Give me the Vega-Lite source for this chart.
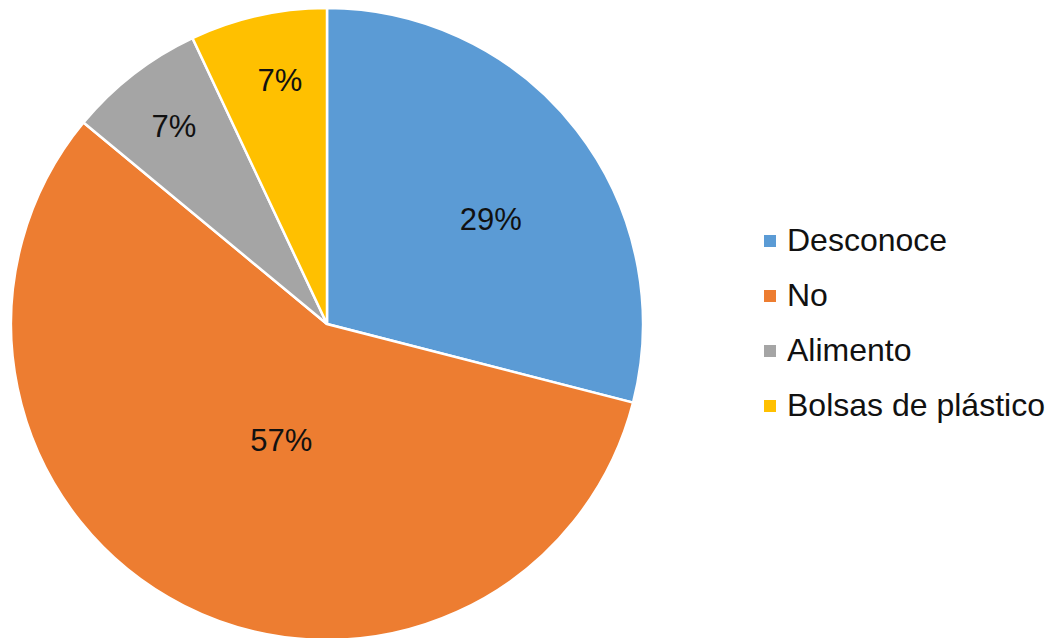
{
  "$schema": "https://vega.github.io/schema/vega-lite/v6.json",
  "width": 654,
  "height": 648,
  "autosize": {"type": "none"},
  "padding": {"left": 0, "top": 0, "right": 401, "bottom": 0},
  "background": "white",
  "config": {"view": {"stroke": null}, "font": "Liberation Sans"},
  "data": {
    "values": [
      {"categoria": "Desconoce", "valor": 29, "orden": 1, "etiqueta": "29%"},
      {"categoria": "No", "valor": 57, "orden": 2, "etiqueta": "57%"},
      {"categoria": "Alimento", "valor": 7, "orden": 3, "etiqueta": "7%"},
      {"categoria": "Bolsas de plástico", "valor": 7, "orden": 4, "etiqueta": "7%"}
    ]
  },
  "encoding": {
    "theta": {"field": "valor", "type": "quantitative", "stack": true},
    "order": {"field": "orden", "type": "quantitative"}
  },
  "layer": [
    {
      "mark": {"type": "arc", "outerRadius": 316, "stroke": "white", "strokeWidth": 2.5},
      "encoding": {
        "color": {
          "field": "categoria",
          "type": "nominal",
          "sort": ["Desconoce", "No", "Alimento", "Bolsas de plástico"],
          "scale": {
            "domain": ["Desconoce", "No", "Alimento", "Bolsas de plástico"],
            "range": ["#5B9BD5", "#ED7D31", "#A5A5A5", "#FFC000"]
          },
          "legend": {
            "title": null,
            "orient": "none",
            "legendX": 754,
            "legendY": 225,
            "symbolType": "square",
            "symbolSize": 144,
            "symbolStrokeWidth": 0,
            "labelFontSize": 32,
            "labelFont": "Liberation Sans",
            "labelColor": "#111111",
            "labelOffset": 1,
            "rowPadding": 23,
            "labelLimit": 400
          }
        }
      }
    },
    {
      "mark": {"type": "text", "radius": 192, "dx": 12, "dy": 15, "fontSize": 31, "color": "#111111"},
      "encoding": {"text": {"condition": {"test": "datum.categoria === 'Desconoce'", "field": "etiqueta"}, "value": ""}}
    },
    {
      "mark": {"type": "text", "radius": 127, "dx": 12, "dy": 5, "fontSize": 31, "color": "#111111"},
      "encoding": {"text": {"condition": {"test": "datum.categoria === 'No'", "field": "etiqueta"}, "value": ""}}
    },
    {
      "mark": {"type": "text", "radius": 248, "dx": -1, "fontSize": 31, "color": "#111111"},
      "encoding": {"text": {"condition": {"test": "datum.categoria === 'Alimento'", "field": "etiqueta"}, "value": ""}}
    },
    {
      "mark": {"type": "text", "radius": 248, "dx": 7, "fontSize": 31, "color": "#111111"},
      "encoding": {"text": {"condition": {"test": "datum.categoria === 'Bolsas de plástico'", "field": "etiqueta"}, "value": ""}}
    }
  ]
}
